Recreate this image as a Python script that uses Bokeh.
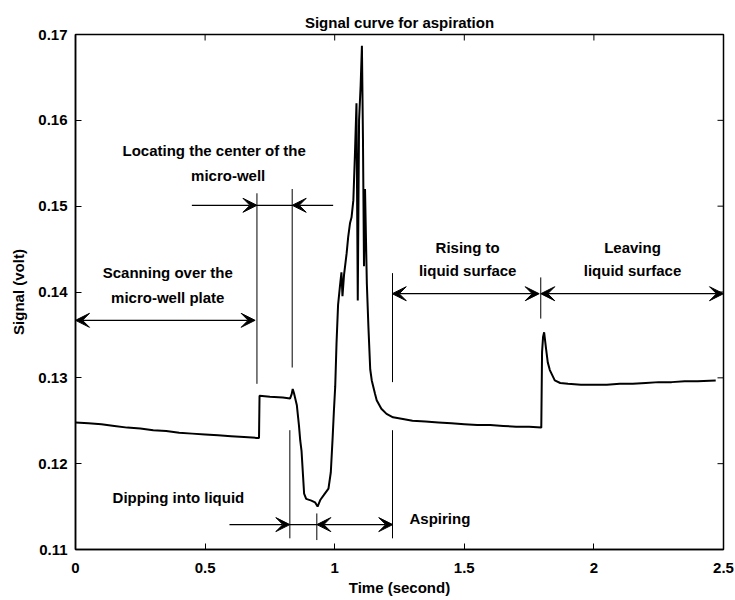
import math
from bokeh.plotting import figure
from bokeh.models import ColumnDataSource, Arrow, VeeHead, FixedTicker
from bokeh.core.properties import value
from bokeh.embed import file_html
from bokeh.resources import INLINE

# ---- signal trace ----
time_s = [0.0, 0.05, 0.1, 0.15, 0.2, 0.25, 0.3, 0.35, 0.4, 0.45, 0.5, 0.55, 0.6, 0.65,
          0.70, 0.708, 0.710, 0.75, 0.8, 0.828, 0.834, 0.838, 0.843, 0.854, 0.862,
          0.867, 0.872, 0.878, 0.882, 0.89, 0.91, 0.924, 0.934, 0.945, 0.957, 0.976,
          0.985, 0.992, 0.997, 1.002, 1.007, 1.013, 1.020, 1.026, 1.030, 1.036, 1.046,
          1.052, 1.059, 1.065, 1.072, 1.078, 1.084, 1.089, 1.094, 1.100, 1.105, 1.109,
          1.113, 1.117, 1.124, 1.13, 1.137, 1.143, 1.155, 1.162, 1.18, 1.2, 1.225,
          1.263, 1.3, 1.35, 1.4, 1.45, 1.5, 1.55, 1.6, 1.65, 1.7, 1.75, 1.797, 1.800,
          1.804, 1.808, 1.815, 1.822, 1.830, 1.849, 1.87, 1.9, 1.95, 2.0, 2.05, 2.1,
          2.15, 2.2, 2.25, 2.3, 2.35, 2.4, 2.47]
signal_v = [0.1248, 0.1247, 0.1246, 0.1244, 0.1242, 0.1241, 0.1239, 0.1238, 0.1236, 0.1235,
            0.1234, 0.1233, 0.1232, 0.1231, 0.1230, 0.1230, 0.1279, 0.1278, 0.1277, 0.1276,
            0.1281, 0.1287, 0.1282, 0.1268, 0.1245, 0.1227, 0.1215, 0.1185, 0.1165, 0.1159,
            0.1157, 0.1155, 0.1150, 0.1158, 0.1163, 0.1171, 0.1190, 0.1230, 0.1262, 0.1290,
            0.1340, 0.1385, 0.1406, 0.1423, 0.1395, 0.1420, 0.1445, 0.1464, 0.1480, 0.1487,
            0.1507, 0.1560, 0.1620, 0.1390, 0.1600, 0.1640, 0.1687, 0.1580, 0.1430, 0.1520,
            0.1410, 0.1360, 0.1310, 0.1297, 0.1282, 0.1274, 0.1264, 0.1258, 0.1254, 0.1252,
            0.1250, 0.1249, 0.1248, 0.1247, 0.1246, 0.1245, 0.1245, 0.1244, 0.1243, 0.1243,
            0.1242, 0.1330, 0.1348, 0.1353, 0.1335, 0.1318, 0.1309, 0.1297, 0.1294, 0.1293,
            0.1292, 0.1292, 0.1292, 0.1293, 0.1293, 0.1294, 0.1295, 0.1295, 0.1296, 0.1296,
            0.1297]

# ---- axes ----
x_ticks = [0, 0.5, 1, 1.5, 2, 2.5]
x_tick_labels = ["0", "0.5", "1", "1.5", "2", "2.5"]
y_ticks = [0.11, 0.12, 0.13, 0.14, 0.15, 0.16, 0.17]
y_tick_labels = ["0.11", "0.12", "0.13", "0.14", "0.15", "0.16", "0.17"]

# ---- annotations ----
single_x0 = [0.449, 0.994, 0.594]
single_x1 = [0.700, 0.836, 0.827]
single_y = [0.1501, 0.1501, 0.1129]
double_x0 = [0.0, 0.931, 1.222, 1.795]
double_x1 = [0.693, 1.224, 1.789, 2.5]
double_y = [0.1367, 0.1129, 0.1398, 0.1398]
bar_x0 = [0.700, 0.827]
bar_x1 = [0.836, 0.931]
bar_y = [0.1501, 0.1129]
vline_x = [0.700, 0.836, 0.827, 0.931, 1.223, 1.223, 1.795]
vline_y0 = [0.1293, 0.1312, 0.1113, 0.1111, 0.1295, 0.1113, 0.1369]
vline_y1 = [0.1515, 0.1520, 0.1239, 0.1142, 0.1422, 0.1239, 0.1417]
label_text = ["Scanning over the", "micro-well plate",
              "Locating the center of the", "micro-well",
              "Rising to", "liquid surface",
              "Leaving", "liquid surface",
              "Dipping into liquid", "Aspiring"]
label_x = [0.356, 0.356, 0.535, 0.589, 1.513, 1.513, 2.149, 2.149, 0.397, 1.406]
label_y = [0.14228, 0.13937, 0.15650, 0.15359, 0.14523, 0.14252, 0.14523, 0.14252,
           0.11610, 0.11358]

FONT = "Liberation Sans"
FS = "15px"

p = figure(width=735, height=600, x_range=(0, 2.5), y_range=(0.11, 0.17),
           output_backend="svg", toolbar_location=None,
           min_border_left=75, min_border_right=12, min_border_top=34, min_border_bottom=51,
           background_fill_color="white", border_fill_color="white")
p.outline_line_color = "black"
p.outline_line_width = 1.5
p.xgrid.grid_line_color = None
p.ygrid.grid_line_color = None

p.title.text = "Signal curve for aspiration"
p.title.align = "center"
p.title.text_font = FONT
p.title.text_font_size = FS
p.title.text_font_style = "bold"
p.title.text_color = "black"
p.title.standoff = 8

for ax, ticks, labels in ((p.xaxis[0], x_ticks, x_tick_labels), (p.yaxis[0], y_ticks, y_tick_labels)):
    ax.ticker = FixedTicker(ticks=ticks)
    ax.major_label_overrides = {t: l for t, l in zip(ticks, labels)}
    ax.major_label_text_font = FONT
    ax.major_label_text_font_size = FS
    ax.major_label_text_font_style = "bold"
    ax.major_label_text_color = "black"
    ax.axis_label_text_font = FONT
    ax.axis_label_text_font_size = FS
    ax.axis_label_text_font_style = "bold"
    ax.axis_label_text_color = "black"
    ax.major_tick_in = 6
    ax.major_tick_out = 0
    ax.minor_tick_line_color = None
    ax.axis_line_width = 1.5
    ax.axis_line_color = "black"
    ax.major_tick_line_color = "black"

p.xaxis[0].axis_label = "Time (second)"
p.xaxis[0].major_label_standoff = 13
p.xaxis[0].axis_label_standoff = 3
p.yaxis[0].axis_label = "Signal (volt)"
p.yaxis[0].major_label_standoff = 8
p.yaxis[0].axis_label_standoff = 8

# inward ticks on the top and right edges of the box
p.ray(x=x_ticks, y=[y_ticks[-1]] * len(x_ticks), length=6, length_units="screen",
      angle=-math.pi / 2, line_color="black", line_width=1)
p.ray(x=[x_ticks[-1]] * len(y_ticks), y=y_ticks, length=6, length_units="screen",
      angle=math.pi, line_color="black", line_width=1)

# signal
p.line(time_s, signal_v, line_color="black", line_width=2)

# vertical marker lines and plain bars
p.segment(x0=vline_x, y0=vline_y0, x1=vline_x, y1=vline_y1, line_color="black", line_width=1)
p.segment(x0=bar_x0, y0=bar_y, x1=bar_x1, y1=bar_y, line_color="black", line_width=1.2)

single_src = ColumnDataSource(dict(x0=single_x0, x1=single_x1, y=single_y))
double_src = ColumnDataSource(dict(x0=double_x0, x1=double_x1, y=double_y))

def head():
    return VeeHead(size=14, fill_color="black", line_color="black", line_width=1)

p.add_layout(Arrow(x_start="x0", y_start="y", x_end="x1", y_end="y", source=single_src,
                   end=head(), start=None, line_color="black", line_width=1.2))
p.add_layout(Arrow(x_start="x0", y_start="y", x_end="x1", y_end="y", source=double_src,
                   end=head(), start=head(), line_color="black", line_width=1.2))

label_src = ColumnDataSource(dict(x=label_x, y=label_y, text=label_text))
p.text(x="x", y="y", text="text", source=label_src, text_font=value(FONT),
       text_font_size=FS, text_font_style="bold", text_align="center",
       text_baseline="middle", text_color="black")

open("out.html", "w").write(file_html(p, INLINE))
